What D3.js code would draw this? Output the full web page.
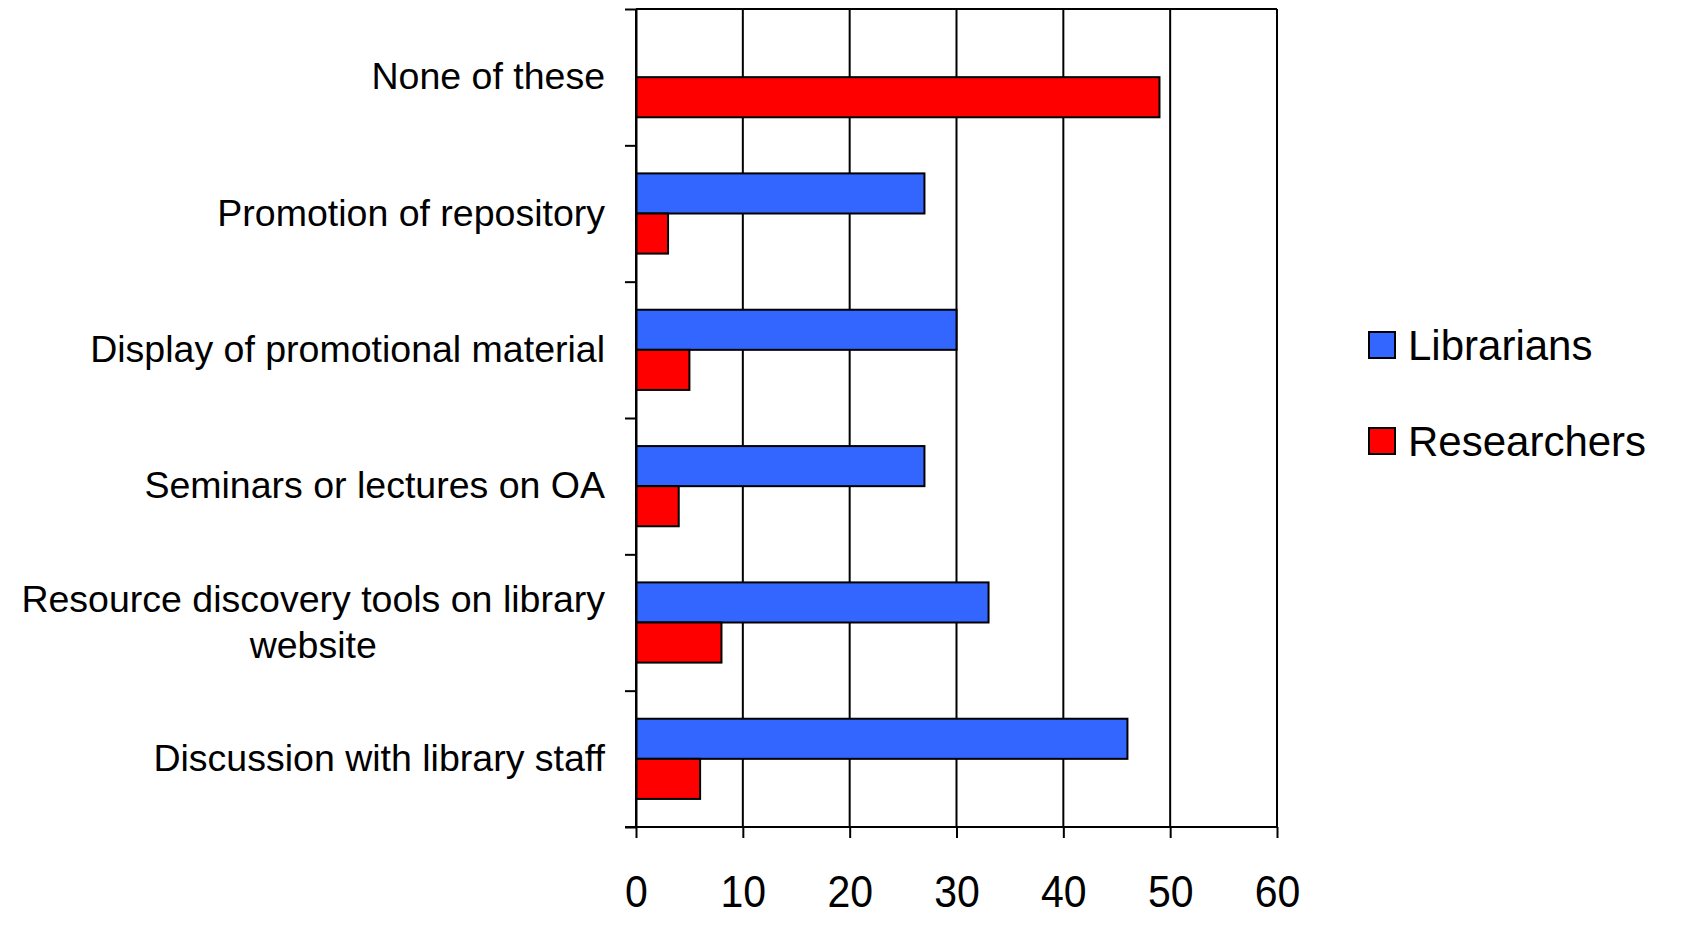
<!DOCTYPE html>
<html>
<head>
<meta charset="utf-8">
<script src="https://cdn.jsdelivr.net/npm/d3@7"></script>
<style>
	body { margin: 0; background: #fff; }
	svg { display: block; font-family: "Liberation Sans", Arial, sans-serif; }
	.axis path, .axis line { stroke: #000; }
</style>
</head>
<body>
<svg class="chart"></svg>
<script>
// data
var categories = ["None of these", "Promotion of repository", "Display of promotional material",
	"Seminars or lectures on OA", "Resource discovery tools on library website", "Discussion with library staff"];
var categoryLines = [["None of these"], ["Promotion of repository"], ["Display of promotional material"],
	["Seminars or lectures on OA"], ["Resource discovery tools on library", "website"], ["Discussion with library staff"]];
var seriesNames = ["Librarians", "Researchers"];
var librarians = [0, 27, 30, 27, 33, 46];
var researchers = [49, 3, 5, 4, 8, 6];
var xTicks = [0, 10, 20, 30, 40, 50, 60];
var seriesColors = ["#3366ff", "#ff0000"];

var W = 1690, H = 947;
var margin = {top: 9, right: 413, bottom: 120, left: 636};
var width = W - margin.left - margin.right,
	height = H - margin.top - margin.bottom;

var chart = d3.select('.chart')
	.attr('width', W)
	.attr('height', H)
	.append('g')
	.attr('transform', 'translate(' + margin.left + ',' + margin.top + ')');

var x = d3.scaleLinear().domain([0, 60]).range([0, width]);
var y = d3.scaleBand().domain(categories).range([0, height]).padding(0);
var ySub = d3.scaleBand().domain(seriesNames).range([0, y.bandwidth()]).paddingInner(0).paddingOuter(0.7);
var yEdge = d3.scaleLinear().domain([0, categories.length]).range([0, height]);

// vertical gridlines
chart.append('g')
	.attr('class', 'grid')
	.selectAll('line')
	.data(xTicks)
	.enter()
	.append('line')
	.attr('x1', function(d){ return x(d); })
	.attr('x2', function(d){ return x(d); })
	.attr('y1', 0)
	.attr('y2', height)
	.attr('stroke', '#000')
	.attr('stroke-width', 2);

// top frame line
chart.append('line')
	.attr('x1', 0).attr('x2', width)
	.attr('y1', 0).attr('y2', 0)
	.attr('stroke', '#000')
	.attr('stroke-width', 2);

// bars
var rows = categories.map(function(c, i){
	return {cat: c, vals: [librarians[i], researchers[i]]};
});

var groups = chart.append('g')
	.selectAll('g')
	.data(rows)
	.enter()
	.append('g')
	.attr('transform', function(d){ return 'translate(0,' + y(d.cat) + ')'; });

groups.selectAll('rect')
	.data(function(d){
		return d.vals.map(function(v, j){ return {name: seriesNames[j], value: v, color: seriesColors[j]}; })
			.filter(function(s){ return s.value > 0; });
	})
	.enter()
	.append('rect')
	.attr('x', x(0))
	.attr('y', function(d){ return ySub(d.name); })
	.attr('width', function(d){ return x(d.value) - x(0); })
	.attr('height', ySub.bandwidth())
	.attr('fill', function(d){ return d.color; })
	.attr('stroke', '#000')
	.attr('stroke-width', 2);

// x axis
var xAxis = d3.axisBottom(x).tickValues(xTicks).tickSize(11).tickPadding(0).tickSizeOuter(0);
var gx = chart.append('g')
	.attr('class', 'x axis')
	.attr('transform', 'translate(0,' + height + ')')
	.call(xAxis);
gx.select('.domain').attr('d', 'M-11,0H' + width).attr('stroke-width', 2);
gx.selectAll('.tick line').attr('stroke-width', 2);
// digits in the picture are a little taller than they are wide
gx.selectAll('.tick text')
	.attr('y', 0)
	.attr('dy', 0)
	.attr('transform', 'translate(0,80) scale(1,1.1)')
	.attr('font-size', 41)
	.attr('fill', '#000')
	.attr('font-family', '"Liberation Sans", Arial, sans-serif');

// y axis, ticks at the category edges
var yAxis = d3.axisLeft(yEdge).tickValues(d3.range(categories.length + 1)).tickSize(11).tickFormat('').tickSizeOuter(0);
var gy = chart.append('g')
	.attr('class', 'y axis')
	.call(yAxis);
gy.select('.domain').attr('stroke-width', 2);
gy.selectAll('.tick line').attr('stroke-width', 2);

// category labels
var labelRight = -31, lineGap = 46, labelSize = 37.5;
var labels = chart.append('g')
	.selectAll('text')
	.data(categories)
	.enter()
	.append('text')
	.attr('font-size', labelSize)
	.attr('fill', '#000')
	.attr('text-anchor', 'end')
	.attr('x', labelRight)
	.attr('y', function(d){ return y(d) + y.bandwidth() / 2; });

labels.each(function(d, i){
	var t = d3.select(this);
	var lines = categoryLines[i];
	lines.forEach(function(l, k){
		t.append('tspan')
			.attr('x', labelRight)
			.attr('dy', k === 0 ? (0.32 * labelSize - (lines.length - 1) * lineGap / 2) : lineGap)
			.text(l);
	});
	if(lines.length > 1){
		var max = 0;
		t.selectAll('tspan').each(function(){
			var w = this.getComputedTextLength();
			if(w > max) max = w;
		});
		t.attr('text-anchor', 'middle');
		t.selectAll('tspan').attr('x', labelRight - max / 2);
	}
});

// legend
var legend = d3.select('.chart').append('g')
	.attr('transform', 'translate(1369,332)');
var items = legend.selectAll('g')
	.data(seriesNames)
	.enter()
	.append('g')
	.attr('transform', function(d, i){ return 'translate(0,' + (i * 96) + ')'; });
items.append('rect')
	.attr('width', 26)
	.attr('height', 26)
	.attr('fill', function(d, i){ return seriesColors[i]; })
	.attr('stroke', '#000')
	.attr('stroke-width', 2);
items.append('text')
	.attr('x', 39)
	.attr('y', 28)
	.attr('font-size', 42)
	.attr('fill', '#000')
	.text(function(d){ return d; });
</script>
</body>
</html>
